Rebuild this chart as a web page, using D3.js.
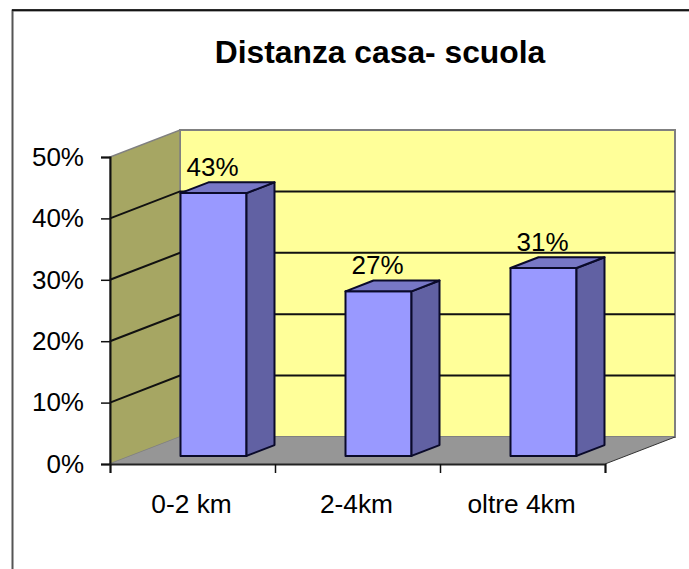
<!DOCTYPE html>
<html><head><meta charset="utf-8">
<script src="https://cdnjs.cloudflare.com/ajax/libs/d3/7.8.5/d3.min.js"></script>
<style>html,body{margin:0;padding:0;background:#fff}svg{display:block}text{font-family:"Liberation Sans",Arial,sans-serif;fill:#000}</style>
</head><body><svg id="c" width="689" height="569"></svg>
<script>
const titleText = "Distanza casa- scuola";
const categories = ["0-2 km", "2-4km", "oltre 4km"];
const values = [42.8, 26.8, 30.6];
const yTicks = [0, 10, 20, 30, 40, 50];

const svg = d3.select("#c");
const W = 689, H = 569;
const x = d3.scaleBand().domain(categories).range([110, 605]).paddingInner(0.6).paddingOuter(0.3);
const xEdge = d3.scaleLinear().domain([0, categories.length]).range([110, 605]);
const y = d3.scaleLinear().domain([0, 50]).range([464, 157]);
const dx = d3.scaleLinear().domain([0, 1]).range([0, 70]);
const dy = d3.scaleLinear().domain([0, 1]).range([0, -27]);
const P = (px, py, d) => [px + dx(d), py + dy(d)];
const poly = pts => pts.map(p => p.join(",")).join(" ");
const [x0, x1] = x.range(), yB = y(0), yT = y(50);

// frame
svg.append("path").attr("d", `M12.5,${H}V10.5H${W}`).attr("fill", "none").attr("stroke", "#555").attr("stroke-width", 2);
svg.append("path").attr("d", `M12,10H${W}`).attr("fill", "none").attr("stroke", "#000").attr("stroke-width", 1.5);

svg.append("text").attr("x", 380).attr("y", 63).attr("text-anchor", "middle")
  .attr("font-size", 31.8).attr("font-weight", "bold").attr("stroke", "none").text(titleText);

// walls and floor
svg.append("polygon").attr("points", poly([P(x0,yB,1),P(x1,yB,1),P(x1,yT,1),P(x0,yT,1)]))
  .attr("fill", "#ffff99").attr("stroke", "#808080").attr("stroke-width", 2);
svg.append("polygon").attr("points", poly([P(x0,yB,0),P(x0,yB,1),P(x0,yT,1),P(x0,yT,0)]))
  .attr("fill", "#a6a663").attr("stroke", "#808080").attr("stroke-width", 1.5);
svg.append("polygon").attr("points", poly([P(x0,yB,0),P(x1,yB,0),P(x1,yB,1),P(x0,yB,1)]))
  .attr("fill", "#969696");
svg.append("line").attr("x1", P(x1,yB,0)[0]).attr("y1", yB).attr("x2", P(x1,yB,1)[0]).attr("y2", P(x1,yB,1)[1]).attr("stroke", "#333").attr("stroke-width", 1);

// gridlines
const grid = yTicks.filter(t => t > 0 && t < 50);
svg.append("g").selectAll("polyline").data(grid).join("polyline")
  .attr("points", t => poly([P(x0,y(t),0),P(x0,y(t),1),P(x1,y(t),1)]))
  .attr("fill", "none").attr("stroke", "#111").attr("stroke-width", 2);

// axes
const yAxis = d3.axisLeft(y).tickValues(yTicks).tickSize(9).tickPadding(17).tickFormat(d => d + "%");
const gy = svg.append("g").attr("transform", `translate(${x0},0)`).call(yAxis);
gy.selectAll("text").attr("font-size", 26).attr("font-family", null);
gy.selectAll(".tick line").attr("stroke", "#111").attr("stroke-width", 1.5);
gy.select(".domain").attr("stroke", "#111").attr("stroke-width", 2);

const xAxis = d3.axisBottom(xEdge).tickValues(d3.range(categories.length + 1)).tickSize(9).tickFormat("");
const gx = svg.append("g").attr("transform", `translate(0,${yB})`).call(xAxis);
gx.selectAll(".tick line").attr("stroke", "#111").attr("stroke-width", 1.5);
gx.select(".domain").attr("stroke", "#222").attr("stroke-width", 2);

svg.append("g").selectAll("text").data(categories).join("text")
  .attr("x", c => x(c) + x.bandwidth() / 2 - 1).attr("y", 513).attr("text-anchor", "middle")
  .attr("font-size", 26.3).text(c => c);

// bars
const dF = 0.3, dR = 0.7;
const bars = svg.append("g").selectAll("g").data(categories.map((c, i) => ({c, v: values[i]}))).join("g")
  .attr("stroke", "#0a0a2a").attr("stroke-width", 2).attr("stroke-linejoin", "round");
bars.append("polygon").attr("points", d => {
  const a = x(d.c), b = a + x.bandwidth();
  return poly([P(a,yB,dF),P(b,yB,dF),P(b,y(d.v),dF),P(a,y(d.v),dF)]);
}).attr("fill", "#9999ff");
bars.append("polygon").attr("points", d => {
  const b = x(d.c) + x.bandwidth();
  return poly([P(b,yB,dF),P(b,yB,dR),P(b,y(d.v),dR),P(b,y(d.v),dF)]);
}).attr("fill", "#6161a3");
bars.append("polygon").attr("points", d => {
  const a = x(d.c), b = a + x.bandwidth();
  return poly([P(a,y(d.v),dF),P(b,y(d.v),dF),P(b,y(d.v),dR),P(a,y(d.v),dR)]);
}).attr("fill", "#7777c6");
bars.append("text").attr("stroke", "none").attr("text-anchor", "middle").attr("font-size", 26)
  .attr("x", d => P(x(d.c) + x.bandwidth() / 2, 0, dF)[0] - 1)
  .attr("y", d => P(0, y(d.v), dF)[1] - 17)
  .text(d => d3.format(".0f")(d.v) + "%");
</script></body></html>
